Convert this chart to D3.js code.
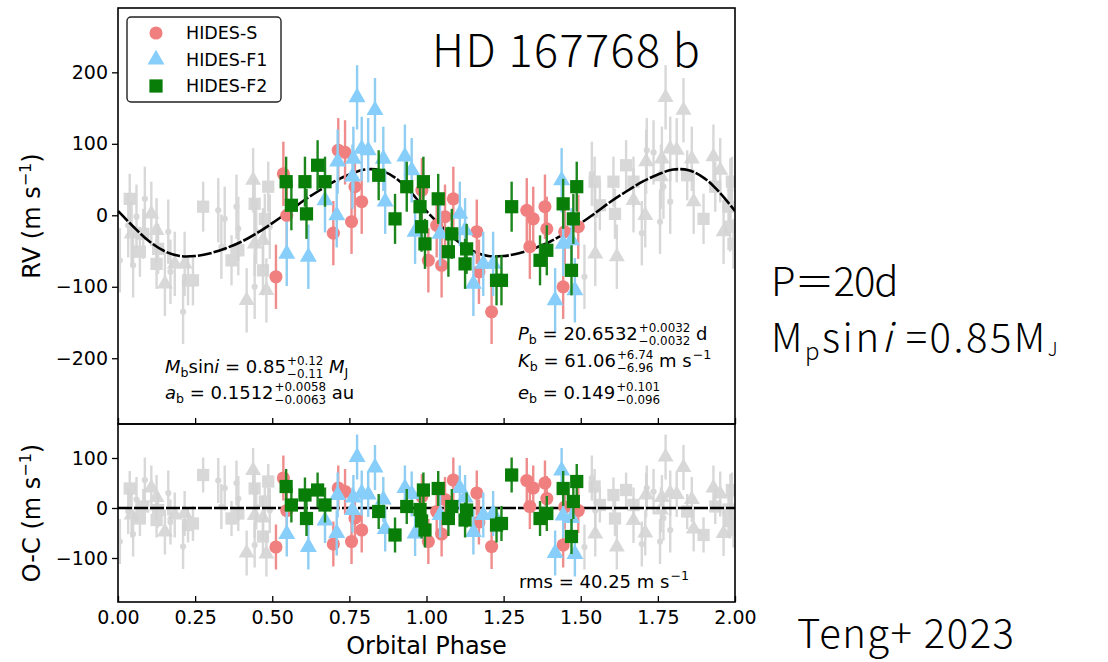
<!DOCTYPE html>
<html>
<head>
<meta charset="utf-8">
<script src="https://cdn.jsdelivr.net/npm/d3@7"></script>
<style>
  body { margin: 0; background: #fff; }
  #rv-chart svg text { font-family: 'DejaVu Sans', sans-serif; fill: #000; white-space: pre; }
</style>
</head>
<body>
<div id="rv-chart"></div>
<script>
// --- data (phase, RV in m/s, O-C residual in m/s) ---
const xTicks = [0, 0.25, 0.5, 0.75, 1, 1.25, 1.5, 1.75, 2];
const rvTicks = [-200, -100, 0, 100, 200];
const resTicks = [-100, 0, 100];

const hidesSPhase = [0.512, 0.536, 0.547, 0.698, 0.714, 0.736, 0.757, 0.768, 0.790, 0.985, 1.006, 1.033, 1.049, 1.060, 1.087, 1.163, 1.170, 1.211, 1.325, 1.335, 1.346, 1.384, 1.390, 1.443, 1.448, 1.492];
const hidesSRV = [-86, 58, 0, -25, 91, 88, -9, 40, 19, 35, -63, -14, -70, -2, 23, -23, -79, -135, 7, -44, -5, 12, -19, -100, -23, -16];
const hidesSRes = [-78, 60, -5, -72, 40, 33, -67, -20, -44, 23, -67, -7, -52, 17, 56, 30, -28, -77, 55, 3, 40, 50, 19, -74, 2, -5];
const hidesSErr = 45;

const hidesF1Phase = [0.547, 0.617, 0.671, 0.709, 0.712, 0.760, 0.763, 0.775, 0.790, 0.811, 0.833, 0.860, 0.866, 0.930, 0.952, 0.963, 1.044, 1.108, 1.125, 1.152, 1.184, 1.216, 1.417, 1.438, 1.443, 1.470, 1.481];
const hidesF1RV = [-54, -58, 21, 0, 75, 54, 79, 165, 93, 91, 147, 79, 19, 82, 63, -23, -26, 2, -21, -96, -68, -68, -119, 49, -40, -35, -105];
const hidesF1Res = [-52, -78, -25, -50, 26, -4, 21, 102, 30, 27, 81, 17, -42, 40, 28, -51, -14, 40, 21, -48, -14, -11, -90, 75, -15, -20, -92];
const hidesF1Err = 45;

const hidesF2Phase = [0.545, 0.562, 0.606, 0.611, 0.647, 0.671, 0.845, 0.898, 0.936, 0.979, 0.984, 0.990, 0.995, 1.038, 1.071, 1.082, 1.125, 1.130, 1.227, 1.243, 1.276, 1.368, 1.390, 1.443, 1.470, 1.476, 1.487];
const hidesF2RV = [47, 14, 47, 2, 70, 47, 56, -5, 40, 12, -16, 47, -40, 23, -51, -26, -68, -47, -91, -91, 12, -63, -49, 16, -77, -5, 40];
const hidesF2Res = [43, 6, 26, -21, 36, 6, -7, -54, 3, -3, -26, 36, -44, 39, -21, 3, -24, -4, -34, -31, 66, -21, -11, 39, -57, 13, 53];
const hidesF2Err = 35;

// best-fit Keplerian curve, sampled off the figure
const modelPhase = [0, 0.05, 0.1, 0.15, 0.2, 0.25, 0.3, 0.35, 0.4, 0.45, 0.5, 0.55, 0.6, 0.65, 0.7, 0.75, 0.8, 0.85, 0.9, 0.95,
  1, 1.05, 1.1, 1.15, 1.2, 1.25, 1.3, 1.35, 1.4, 1.45, 1.5, 1.55, 1.6, 1.65, 1.7, 1.75, 1.8, 1.85, 1.9, 1.95, 2];
const modelRV = [6, -16, -36, -50, -57, -57, -53, -46, -37, -25, -11, 4, 20, 34, 47, 57, 64, 63, 52, 32,
  6, -16, -36, -50, -57, -57, -53, -46, -37, -25, -11, 4, 20, 34, 47, 57, 64, 63, 52, 32, 6];

const RVChart = {
  render() {
    const container = document.getElementById('rv-chart');
    container.innerHTML = '';

    const W = 1108, H = 662;
    const left = 118, right = 735;
    const top1 = 8, bot1 = 424, bot2 = 602;

    const svg = d3.select('#rv-chart')
      .append('svg')
      .attr('width', W)
      .attr('height', H);

    const x = d3.scaleLinear().domain([0, 2]).range([left, right]);
    const yRV = d3.scaleLinear().domain([-292, 290]).range([bot1, top1]);
    const yRes = d3.scaleLinear().domain([-188, 168]).range([bot2, bot1]);

    const grayColor = '#d4d4d4';
    const series = [
      { name: 'HIDES-S', phase: hidesSPhase, rv: hidesSRV, res: hidesSRes, err: hidesSErr,
        symbol: d3.symbolCircle, size: 135, graySize: 30, color: '#f08080', bar: '#ef8c8c' },
      { name: 'HIDES-F1', phase: hidesF1Phase, rv: hidesF1RV, res: hidesF1Res, err: hidesF1Err,
        symbol: d3.symbolTriangle, size: 125, graySize: 110, color: '#87cefa', bar: '#8fcdf2' },
      { name: 'HIDES-F2', phase: hidesF2Phase, rv: hidesF2RV, res: hidesF2Res, err: hidesF2Err,
        symbol: d3.symbolSquare, size: 175, graySize: 150, color: '#087d08', bar: '#1c861c' }
    ];

    // clip paths for both panels
    const defs = svg.append('defs');
    defs.append('clipPath').attr('id', 'clip-rv')
      .append('rect').attr('x', left).attr('y', top1).attr('width', right - left).attr('height', bot1 - top1);
    defs.append('clipPath').attr('id', 'clip-res')
      .append('rect').attr('x', left).attr('y', bot1).attr('width', right - left).attr('height', bot2 - bot1);

    const drawPoints = (layer, s, yScale, key, gray) => {
      const pts = s.phase.map((p, i) => ({
        p: gray ? (p < 1 ? p + 1 : p - 1) : p,
        v: s[key][i]
      }));
      layer.selectAll(null)
        .data(pts)
        .enter()
        .append('line')
        .attr('x1', d => x(d.p))
        .attr('x2', d => x(d.p))
        .attr('y1', d => yScale(d.v - s.err))
        .attr('y2', d => yScale(d.v + s.err))
        .attr('stroke', gray ? grayColor : s.bar)
        .attr('stroke-width', 2.4);
      layer.selectAll(null)
        .data(pts)
        .enter()
        .append('path')
        .attr('transform', d => `translate(${x(d.p)},${yScale(d.v)})`)
        .attr('d', d3.symbol().type(s.symbol).size(gray ? s.graySize : s.size))
        .attr('fill', gray ? grayColor : s.color);
    };

    const panel = (clipId, yScale, key, curve) => {
      const g = svg.append('g').attr('clip-path', `url(#${clipId})`);
      // phase-folded copies in grey
      series.forEach(s => drawPoints(g.append('g').attr('opacity', 0.9), s, yScale, key, true));
      // model
      const line = d3.line()
        .x(d => x(d[0]))
        .y(d => yScale(d[1]))
        .curve(d3.curveCatmullRom);
      g.append('path')
        .datum(curve)
        .attr('d', line)
        .attr('fill', 'none')
        .attr('stroke', '#000')
        .attr('stroke-width', 2.6)
        .attr('stroke-dasharray', '14,2');
      series.forEach(s => drawPoints(g.append('g'), s, yScale, key, false));
    };

    panel('clip-rv', yRV, 'rv', modelPhase.map((p, i) => [p, modelRV[i]]));
    panel('clip-res', yRes, 'res', [[0, 0], [2, 0]]);

    // frames
    svg.append('rect')
      .attr('x', left).attr('y', top1)
      .attr('width', right - left).attr('height', bot1 - top1)
      .attr('fill', 'none').attr('stroke', '#000').attr('stroke-width', 1.6);
    svg.append('rect')
      .attr('x', left).attr('y', bot1)
      .attr('width', right - left).attr('height', bot2 - bot1)
      .attr('fill', 'none').attr('stroke', '#000').attr('stroke-width', 1.6);

    const minus = d => (d < 0 ? '\u2212' + Math.abs(d) : String(d));

    // y axes (ticks outward)
    const yAxisRV = svg.append('g')
      .attr('transform', `translate(${left},0)`)
      .call(d3.axisLeft(yRV).tickValues(rvTicks).tickFormat(minus).tickSizeInner(6).tickSizeOuter(0).tickPadding(4));
    const yAxisRes = svg.append('g')
      .attr('transform', `translate(${left},0)`)
      .call(d3.axisLeft(yRes).tickValues(resTicks).tickFormat(minus).tickSizeInner(6).tickSizeOuter(0).tickPadding(4));

    // x axes (ticks inward)
    const xAxisTop = svg.append('g')
      .attr('transform', `translate(0,${bot1})`)
      .call(d3.axisBottom(x).tickValues(xTicks).tickSizeInner(-6).tickSizeOuter(0).tickFormat(''));
    const xAxisBot = svg.append('g')
      .attr('transform', `translate(0,${bot2})`)
      .call(d3.axisBottom(x).tickValues(xTicks).tickSizeInner(-6).tickSizeOuter(0).tickPadding(9)
        .tickFormat(d3.format('.2f')));

    [yAxisRV, yAxisRes, xAxisTop, xAxisBot].forEach(a => {
      a.select('.domain').remove();
      a.selectAll('.tick line').attr('stroke', '#000').attr('stroke-width', 1.3);
      a.selectAll('.tick text').style('font-size', '19px').style('font-family', "'DejaVu Sans', sans-serif");
    });

    // axis labels
    const yLabel = (cy, main) => {
      const t = svg.append('text')
        .attr('transform', `translate(40,${cy}) rotate(-90)`)
        .attr('text-anchor', 'middle')
        .style('font-size', '24px');
      t.append('tspan').text(main + ' (m s');
      t.append('tspan').attr('dy', -9).style('font-size', '16px').text('\u22121');
      t.append('tspan').attr('dy', 9).text(')');
    };
    yLabel((top1 + bot1) / 2, 'RV');
    yLabel((bot1 + bot2) / 2, 'O-C');

    svg.append('text')
      .attr('x', (left + right) / 2)
      .attr('y', 654)
      .attr('text-anchor', 'middle')
      .style('font-size', '24px')
      .text('Orbital Phase');

    // legend
    const legend = svg.append('g');
    legend.append('rect')
      .attr('x', 127).attr('y', 17)
      .attr('width', 154).attr('height', 85)
      .attr('rx', 4)
      .attr('fill', '#fff')
      .attr('stroke', '#222')
      .attr('stroke-width', 1.4);
    series.forEach((s, i) => {
      const ly = 33 + i * 26.5;
      legend.append('path')
        .attr('transform', `translate(156,${ly})`)
        .attr('d', d3.symbol().type(s.symbol).size(s.size))
        .attr('fill', s.color);
      legend.append('text')
        .attr('x', 186)
        .attr('y', ly)
        .attr('dy', '0.36em')
        .style('font-size', '17.5px')
        .text(s.name);
    });

    // mathtext-like annotation lines
    const mathLine = (lx, ly, parts, size) => {
      let cx = lx;
      const g = svg.append('g');
      const put = (txt, px, py, fs, italic) => {
        const t = g.append('text')
          .attr('x', px).attr('y', py)
          .style('font-size', fs + 'px')
          .style('font-style', italic ? 'italic' : 'normal')
          .text(txt);
        return t.node().getComputedTextLength();
      };
      parts.forEach(p => {
        if (p.t !== undefined) cx += put(p.t, cx, ly, size, p.it);
        else if (p.sub !== undefined) cx += put(p.sub, cx, ly + size * 0.22, size * 0.7, false);
        else if (p.sup !== undefined) cx += put(p.sup, cx + 1, ly - size * 0.42, size * 0.7, false) + 1;
        else if (p.hi !== undefined) {
          const w1 = put(p.hi, cx + 1, ly - size * 0.42, size * 0.66, false);
          const w2 = put(p.lo, cx + 1, ly + size * 0.3, size * 0.66, false);
          cx += Math.max(w1, w2) + 1;
        }
      });
    };

    const fs = 18;
    mathLine(165, 373, [{ t: 'M', it: true }, { sub: 'b' }, { t: 'sin' }, { t: 'i', it: true }, { t: ' = 0.85' },
      { hi: '+0.12', lo: '\u22120.11' }, { t: ' ' }, { t: 'M', it: true }, { sub: 'J' }], fs);
    mathLine(165, 399, [{ t: 'a', it: true }, { sub: 'b' }, { t: ' = 0.1512' },
      { hi: '+0.0058', lo: '\u22120.0063' }, { t: ' au' }], fs);
    mathLine(518, 340, [{ t: 'P', it: true }, { sub: 'b' }, { t: ' = 20.6532' },
      { hi: '+0.0032', lo: '\u22120.0032' }, { t: ' d' }], fs);
    mathLine(518, 367, [{ t: 'K', it: true }, { sub: 'b' }, { t: ' = 61.06' },
      { hi: '+6.74', lo: '\u22126.96' }, { t: ' m s' }, { sup: '\u22121' }], fs);
    mathLine(518, 399, [{ t: 'e', it: true }, { sub: 'b' }, { t: ' = 0.149' },
      { hi: '+0.101', lo: '\u22120.096' }], fs);
    mathLine(519, 588, [{ t: 'rms = 40.25 m s' }, { sup: '\u22121' }], fs);

    // slide annotations outside the plot
    const jp = "'Noto Sans CJK JP', 'Noto Sans', sans-serif";
    svg.append('text')
      .attr('x', 432).attr('y', 67)
      .attr('textLength', 268).attr('lengthAdjust', 'spacing')
      .style('font-family', jp).style('font-size', '45px').style('font-weight', 300)
      .text('HD 167768 b');

    svg.append('text')
      .attr('x', 771).attr('y', 296)
      .style('font-family', jp).style('font-size', '40px').style('font-weight', 300)
      .style('letter-spacing', '-1px')
      .text('P\uFF1D20d');

    const mp = svg.append('text')
      .attr('x', 771).attr('y', 352)
      .style('font-family', jp).style('font-size', '40px').style('font-weight', 300)
      .style('letter-spacing', '2.5px');
    mp.append('tspan').text('M');
    mp.append('tspan').attr('dy', 8).style('font-size', '24px').text('p');
    mp.append('tspan').attr('dy', -8).text('sin');
    mp.append('tspan').style('font-style', 'italic').text('i');
    mp.append('tspan').text(' =0.85M');
    mp.append('tspan').attr('dy', 4).style('font-size', '19px').text('J');

    svg.append('text')
      .attr('x', 797).attr('y', 648)
      .style('font-family', jp).style('font-size', '40px').style('font-weight', 300)
      .style('letter-spacing', '1.5px')
      .text('Teng+ 2023');
  }
};

RVChart.render();
</script>
</body>
</html>
